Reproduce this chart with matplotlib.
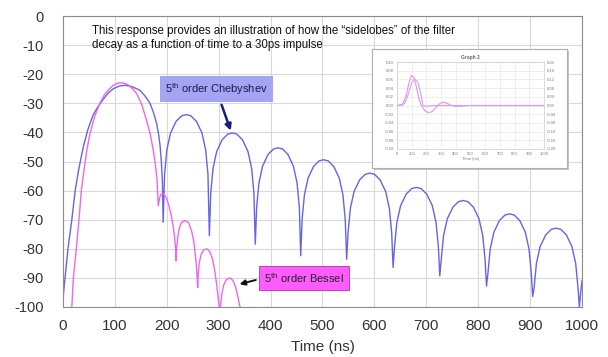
import matplotlib
matplotlib.use("Agg")
import matplotlib.pyplot as plt
from matplotlib import font_manager
from matplotlib.patches import Rectangle

plt.rcParams['axes.unicode_minus'] = False
plt.rcParams['font.family'] = ['Liberation Sans', 'DejaVu Sans']

# 5th order Chebyshev (dB vs ns)
cheb_x = [0, 5, 9.6, 17, 23.5, 30, 39, 48, 58, 68, 78, 88, 97, 108, 119.5, 132, 148, 158, 167.6,
          175, 180.5, 184.5, 187, 189.5, 191.5, 193,
          195.7, 200.1, 207.2, 217.9, 228.6, 237.5, 246.4, 257.1, 267.8, 274.9, 279.3, 282,
          284.7, 289.1, 296.2, 306.8, 317.4, 326.3, 335.1, 345.7, 356.3, 363.4, 367.8, 370.5,
          373.1, 377.5, 384.5, 395.0, 405.5, 414.3, 423.0, 433.5, 444.0, 451.0, 455.4, 458,
          460.7, 465.1, 472.2, 482.8, 493.4, 502.3, 511.1, 521.7, 532.3, 539.4, 543.8, 546.5,
          549.2, 553.7, 560.8, 571.6, 582.3, 591.3, 600.2, 610.9, 621.7, 628.8, 633.3, 636,
          638.7, 643.2, 650.4, 661.2, 672.0, 681.0, 690.0, 700.8, 711.6, 718.8, 723.3, 726,
          728.7, 733.2, 740.4, 751.2, 762.0, 771.0, 780.0, 790.8, 801.6, 808.8, 813.3, 816,
          818.7, 823.1, 830.2, 840.9, 851.6, 860.5, 869.4, 880.1, 890.8, 897.9, 902.3, 905,
          907.7, 912.2, 919.4, 930.2, 941.0, 950.0, 959.0, 969.8, 980.6, 987.8, 992.3, 995,
          997.5, 1000]
cheb_y = [-97, -88, -80, -70, -60, -53, -45, -39, -34, -31, -28.5, -26.3, -25, -24.1, -23.8, -24.2, -25.5, -27.5, -30,
          -33.5, -37, -41, -44.5, -50, -57, -70.9,
          -54.4, -46.0, -40.2, -36.2, -34.3, -33.9, -34.3, -36.2, -40.2, -46.0, -54.4, -75.5,
          -60.7, -52.3, -46.5, -42.5, -40.6, -40.2, -40.6, -42.5, -46.5, -52.3, -60.7, -78.4,
          -65.8, -57.4, -51.6, -47.6, -45.7, -45.3, -45.7, -47.6, -51.6, -57.4, -65.8, -82.4,
          -69.9, -61.5, -55.7, -51.7, -49.8, -49.4, -49.8, -51.7, -55.7, -61.5, -69.9, -83.6,
          -74.5, -66.1, -60.3, -56.3, -54.4, -54.0, -54.4, -56.3, -60.3, -66.1, -74.5, -86.4,
          -79.4, -71.0, -65.2, -61.2, -59.3, -58.9, -59.3, -61.2, -65.2, -71.0, -79.4, -89.3,
          -83.9, -75.5, -69.7, -65.7, -63.8, -63.4, -63.8, -65.7, -69.7, -75.5, -83.9, -92.8,
          -88.5, -80.1, -74.3, -70.3, -68.4, -68.0, -68.4, -70.3, -74.3, -80.1, -88.5, -96.4,
          -93.4, -85.0, -79.2, -75.2, -73.3, -72.9, -73.3, -75.2, -79.2, -85.0, -93.4, -100,
          -95, -91]

# 5th order Bessel
bes_x = [17, 20, 25.6, 30.8, 35.3, 40.5, 46, 52, 61, 71, 80, 88, 97, 106.6, 116, 125, 134, 142,
         152, 161, 168, 174, 178, 181, 183.6,
         186, 189, 193, 198, 203, 208, 212, 215, 217, 218,
         219, 221, 224, 228, 235, 242, 248, 252, 255, 257.5, 259.5,
         260.5, 262.5, 266, 271, 277, 283, 288, 292, 295.5, 298.5, 301, 302.5,
         304, 306, 309.5, 315, 322, 328, 333, 337, 341, 344]
bes_y = [-100, -90, -80, -70, -60, -53, -46, -40.4, -34.5, -30, -27, -25.3, -23.8, -23, -23, -23.6, -25, -26.7,
         -30.5, -35.9, -40.5, -46.2, -51, -56, -65.2,
         -62.5, -61.2, -61, -62, -64.5, -68, -72, -76, -80, -84.1,
         -80, -76, -73, -71, -70.3, -71, -74, -77.5, -82, -87, -93.3,
         -89, -85, -82, -80.4, -80, -81, -83.5, -87, -91.5, -96, -100, -104,
         -99, -95.5, -92.5, -90.5, -90, -91, -93.5, -96.5, -100, -104]

# small pasted "Graph 2" picture
g2_x = [0, 20, 40, 60, 80, 98, 115, 130, 150, 166, 190, 210, 234, 260, 290, 314, 340, 370, 400, 450, 500, 1000]
g2_y = [0, 0.001, 0.004, 0.02, 0.05, 0.069, 0.065, 0.045, 0.015, 0, -0.012, -0.016, -0.015, -0.006,
        0.004, 0.0077, 0.005, 0.0, -0.002, -0.001, 0, 0]
g2b_x = [0, 40, 60, 80, 100, 120, 140, 160, 177, 200, 250, 1000]
g2b_y = [0, 0.002, 0.02, 0.06, 0.105, 0.122, 0.11, 0.06, 0, -0.004, 0, 0]

x_ticks = list(range(0, 1001, 100))
y_ticks = list(range(-100, 1, 10))

names = {f.name for f in font_manager.fontManager.ttflist}
if 'Liberation Sans Narrow' in names:
    note_font, note_size = 'Liberation Sans Narrow', 9.8
else:
    note_font, note_size = 'Liberation Sans', 8.3

W, H = 608, 357
fig = plt.figure(figsize=(W / 100, H / 100), dpi=100)
ax = fig.add_axes([63 / W, 1 - 307 / H, 519 / W, 291 / H])

ax.plot(cheb_x, cheb_y, color='#6464e6', lw=1)
ax.plot(bes_x, bes_y, color='#ee66ee', lw=1)

ax.set_xlim(0, 1000)
ax.set_ylim(-100, 0)
ax.set_xticks(x_ticks)
ax.set_yticks(y_ticks)
ax.tick_params(axis='both', length=0, colors='#333333')
ax.tick_params(axis='x', labelsize=11, pad=9)
ax.tick_params(axis='y', labelsize=10.5, pad=14)
ax.grid(True, color='#d9d9d9', lw=0.8)
for s in ax.spines.values():
    s.set_color('#8c8c8c')
ax.set_xlabel('Time (ns)', fontsize=11, color='#333333', labelpad=5)

ax.text(0.056, 0.968,
        'This response provides an illustration of how the \u201csidelobes\u201d of the filter\n'
        'decay as a function of time to a 30ps impulse',
        transform=ax.transAxes, ha='left', va='top', fontsize=note_size,
        family=note_font, linespacing=1.2, color='#111111')

ax.annotate('5$\\mathregular{^{th}}$ order Chebyshev', xy=(325, -40.3), xytext=(295, -25.2),
            ha='center', va='center', fontsize=8, color='#1a1a50',
            bbox=dict(boxstyle='square,pad=0.45', fc='#a4a4f4', ec='none'),
            arrowprops=dict(arrowstyle='-|>', color='#1c1c80', lw=1.8, mutation_scale=9))
ax.annotate('5$\\mathregular{^{th}}$ order Bessel', xy=(335, -92.4), xytext=(464, -90),
            ha='center', va='center', fontsize=8, color='#222222',
            bbox=dict(boxstyle='square,pad=0.45', fc='#ff5cff', ec='#b030b0', lw=0.6),
            arrowprops=dict(arrowstyle='-|>', color='#111111', lw=1.4, mutation_scale=8,
                            relpos=(0, 0.5)))

# inset picture with shadow
fig.add_artist(Rectangle((374 / W, 1 - 170 / H), 195 / W, 119 / H, transform=fig.transFigure,
                         fc='#c4c4c4', ec='none', zorder=3))
box = fig.add_axes([372 / W, 1 - 168 / H, 195 / W, 119 / H], zorder=4)
box.set_xticks([])
box.set_yticks([])
for s in box.spines.values():
    s.set_color('#b0b0b0')
    s.set_linewidth(0.8)

ins = fig.add_axes([397 / W, 1 - 149 / H, 147 / W, 87 / H], zorder=5)
ins.plot(g2_x, g2_y, color='#e890e8', lw=0.8)
ins.set_xlim(0, 1000)
ins.set_ylim(-0.1, 0.1)
ins.set_xticks(x_ticks)
ins.set_yticks([round(-0.1 + 0.02 * i, 2) for i in range(11)])
ins.grid(True, color='#e4e4e4', lw=0.4)
ins.tick_params(length=0, labelsize=3, colors='#777777', pad=2)
ins.set_title('Graph 2', fontsize=3.5, fontweight='bold', color='#666666', pad=2)
ins.set_xlabel('Time (ns)', fontsize=3, color='#777777', labelpad=1)
for s in ins.spines.values():
    s.set_color('#cccccc')
    s.set_linewidth(0.5)
ins2 = ins.twinx()
ins2.plot(g2b_x, g2b_y, color='#c8a4f0', lw=0.8)
ins2.set_ylim(-0.2, 0.2)
ins2.set_yticks([round(-0.2 + 0.04 * i, 2) for i in range(11)])
ins2.tick_params(length=0, labelsize=3, colors='#777777', pad=2)
for s in ins2.spines.values():
    s.set_visible(False)

fig.savefig('out.png', dpi=100)
